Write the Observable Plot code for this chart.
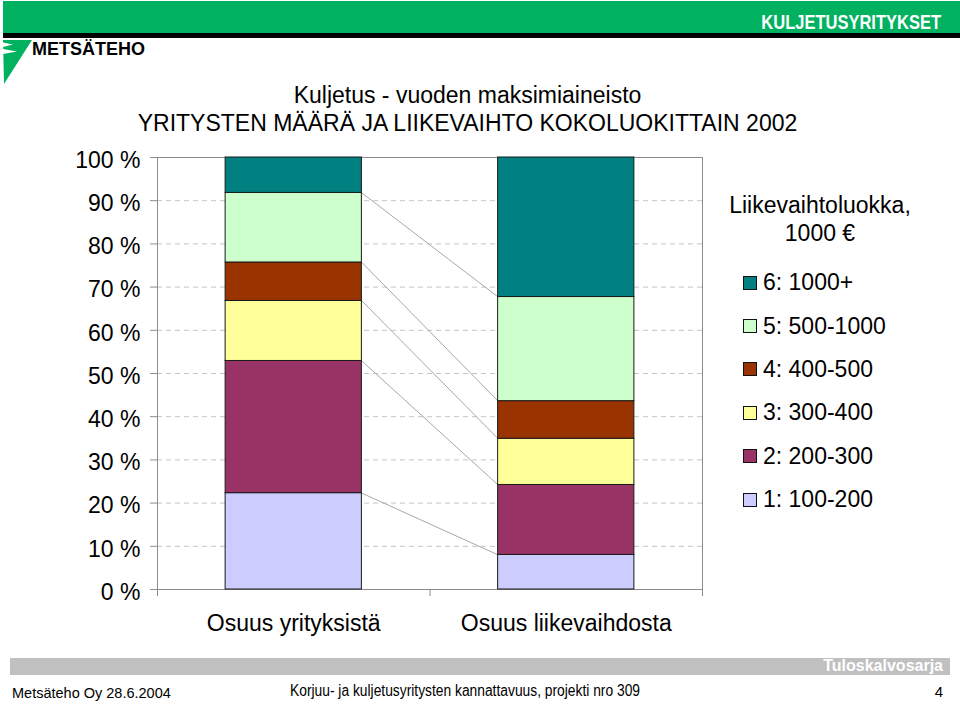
<!DOCTYPE html>
<html>
<head>
<meta charset="utf-8">
<script src="https://cdn.jsdelivr.net/npm/d3@7"></script>
<script src="https://cdn.jsdelivr.net/npm/@observablehq/plot@0.6"></script>
<style>
  html, body { margin: 0; padding: 0; background: #fff; }
  #page { position: relative; width: 960px; height: 705px; overflow: hidden;
          font-family: "Liberation Sans", Arial, sans-serif; color: #000; }
  #deco { position: absolute; left: 0; top: 0; }
  #title { position: absolute; left: 0; top: 82px; width: 935px; text-align: center;
           font-size: 23px; line-height: 27.7px; white-space: nowrap; }
  #chart { position: absolute; left: 0; top: 100px; }
  #legtitle { position: absolute; left: 720px; top: 191px; width: 200px; text-align: center;
              font-size: 23px; line-height: 28px; white-space: nowrap; }
  #legend { position: absolute; left: 743px; top: 261px; font-size: 23px; }
  .row { height: 43.4px; display: flex; align-items: center; white-space: nowrap; }
  .sw { width: 14px; height: 14px; box-sizing: border-box; border: 1px solid #111; margin-right: 6px; flex: none; }
</style>
</head>
<body>
<div id="page">
  <svg id="deco" width="960" height="705" xmlns="http://www.w3.org/2000/svg">
    <rect x="3" y="1" width="957" height="32" fill="#00b25f"/>
    <rect x="3" y="33" width="957" height="5" fill="#000"/>
    <text transform="translate(941,28.5) scale(0.825,1)" text-anchor="end" fill="#fff"
          font-family="'Liberation Sans', Arial, sans-serif" font-weight="bold" font-size="20">KULJETUSYRITYKSET</text>
    <polygon points="3,40 32,40 4,84" fill="#00b25f"/>
    <polygon points="3,42.5 13,44.5 3,47" fill="#fff"/>
    <polygon points="3,49 17,51.5 3,54" fill="#fff"/>
    <text x="32" y="55" font-family="'Liberation Sans', Arial, sans-serif" font-size="18"
          font-weight="bold" fill="#000">METSÄTEHO</text>
    <rect x="10" y="658" width="940" height="17" fill="#c0c0c0"/>
    <text x="943" y="671" text-anchor="end" fill="#fff" font-weight="bold" font-size="16"
          font-family="'Liberation Sans', Arial, sans-serif">Tuloskalvosarja</text>
    <text x="12" y="698" font-size="14.5" font-family="'Liberation Sans', Arial, sans-serif">Metsäteho Oy 28.6.2004</text>
    <text x="290" y="695.5" font-size="16" font-family="'Liberation Sans Narrow', 'Arial Narrow', sans-serif"
          textLength="350" lengthAdjust="spacingAndGlyphs">Korjuu- ja kuljetusyritysten kannattavuus, projekti nro 309</text>
    <text x="943" y="697" text-anchor="end" font-size="15" font-family="'Liberation Sans', Arial, sans-serif">4</text>
  </svg>
  <div id="title">Kuljetus - vuoden maksimiaineisto<br>YRITYSTEN MÄÄRÄ JA LIIKEVAIHTO KOKOLUOKITTAIN 2002</div>
  <div id="chart"></div>
  <div id="legtitle">Liikevaihtoluokka,<br>1000 €</div>
  <div id="legend"></div>
</div>
<script>
// ---- data ----
const categories = ["Osuus yrityksistä", "Osuus liikevaihdosta"];
const classes = ["1: 100-200", "2: 200-300", "3: 300-400", "4: 400-500", "5: 500-1000", "6: 1000+"];
const shareCompanies = [22.3, 30.6, 13.9, 8.9, 16.1, 8.2];
const shareTurnover  = [8.0, 16.2, 10.7, 8.7, 24.1, 32.3];
const colors = ["#ccccff", "#993366", "#ffff99", "#993300", "#ccffcc", "#008080"];
const yTicks = [0, 10, 20, 30, 40, 50, 60, 70, 80, 90, 100];

// ---- build table (manual stack) ----
const series = [shareCompanies, shareTurnover];
const table = [];
const cum = series.map((vals, i) => {
  let acc = 0;
  const tops = [];
  vals.forEach((v, j) => {
    table.push({i, cat: categories[i], cls: classes[j], y1: acc, y2: acc + v});
    acc += v;
    tops.push(acc);
  });
  return tops;
});
// series lines between bars (boundaries below the top)
const links = [];
for (let i = 0; i < series.length - 1; i++) {
  for (let j = 0; j < classes.length - 1; j++) {
    links.push({i, ya: cum[i][j], yb: cum[i + 1][j]});
  }
}
const separators = d3.range(categories.length + 1).map(k => k - 0.5);
const half = 0.25;

const chart = Plot.plot({
  width: 720,
  height: 540,
  marginLeft: 157,
  marginRight: 18,
  marginTop: 57,
  marginBottom: 51,
  style: {fontFamily: "'Liberation Sans', Arial, sans-serif", fontSize: "23px", background: "transparent", overflow: "visible", color: "#000"},
  x: {domain: [-0.5, categories.length - 0.5], label: null},
  y: {domain: [0, 100], label: null},
  color: {domain: classes, range: colors},
  marks: [
    Plot.ruleY(yTicks.filter(t => t > 0 && t < 100), {stroke: "#c4c4c4", strokeDasharray: "5,4"}),
    Plot.frame({stroke: "#8c8c8c"}),
    Plot.link(links, {x1: d => d.i + half, y1: "ya", x2: d => d.i + 1 - half, y2: "yb", stroke: "#a8a8a8", strokeWidth: 1}),
    Plot.rect(table, {x1: d => d.i - half, x2: d => d.i + half, y1: "y1", y2: "y2", fill: "cls", stroke: "#1a1a1a", strokeWidth: 1}),
    Plot.axisY(yTicks, {tickSize: 7, stroke: "#8c8c8c", fill: "none", label: null}),
    Plot.axisY(yTicks, {tickSize: 0, tickPadding: 17, tickFormat: d => `${d} %`, fill: "#000", fontSize: 23, dy: 3, label: null}),
    Plot.axisX(separators, {tickSize: 7, stroke: "#8c8c8c", fill: "none", label: null}),
    Plot.axisX(categories.map((c, i) => i), {tickSize: 0, tickPadding: 25, tickFormat: i => categories[i], fill: "#000", fontSize: 23, label: null})
  ]
});
document.getElementById("chart").appendChild(chart);

// ---- legend (top = last class) ----
const leg = document.getElementById("legend");
classes.map((c, j) => ({c, col: colors[j]})).reverse().forEach(({c, col}) => {
  const row = document.createElement("div");
  row.className = "row";
  const sw = document.createElement("span");
  sw.className = "sw";
  sw.style.background = col;
  const t = document.createElement("span");
  t.textContent = c;
  row.appendChild(sw);
  row.appendChild(t);
  leg.appendChild(row);
});
</script>
</body>
</html>
